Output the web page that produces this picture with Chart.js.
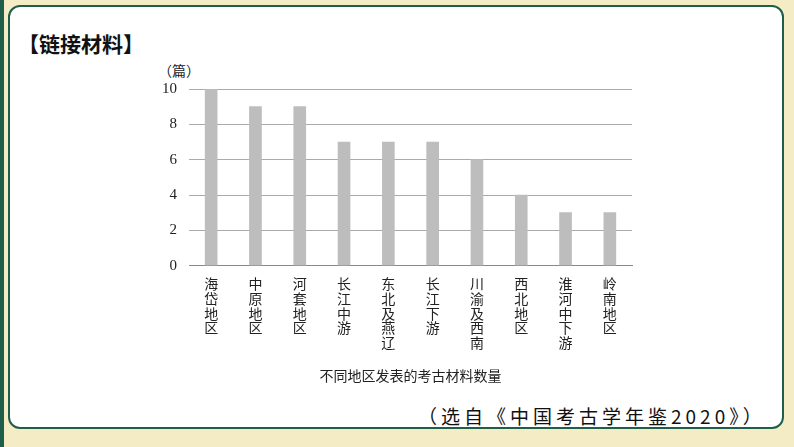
<!DOCTYPE html>
<html><head><meta charset="utf-8">
<script src="https://cdn.jsdelivr.net/npm/chart.js@4/dist/chart.umd.min.js"></script>
<style>
body{margin:0;width:794px;height:447px;background:#f3ecc4;position:relative;overflow:hidden;font-family:"Noto Sans CJK SC",sans-serif;}
#frame{position:absolute;left:0;top:0;width:794px;height:447px;border-left:4px solid #1e5e4a;box-sizing:border-box;}
#card{position:absolute;left:8px;top:5px;width:776px;height:424px;background:#fff;border:2px solid #1e5e4a;border-radius:12px;box-sizing:border-box;}
#title{position:absolute;left:18px;top:28px;font-size:21px;font-weight:bold;color:#111;}
#unit{position:absolute;left:158px;top:60px;font-size:14px;color:#222;}
#src{position:absolute;left:418px;top:402px;font-size:19px;color:#111;letter-spacing:4px;}
#wrap{position:absolute;left:150px;top:68px;width:490px;height:320px;}
</style></head><body>
<div id="frame"></div><div id="card"></div>
<div id="title">【链接材料】</div>
<div id="unit">（篇）</div>
<div id="wrap"><canvas id="c"></canvas></div>
<div id="src">（选自《中国考古学年鉴2020》）</div>
<script>
const regions = ["海岱地区","中原地区","河套地区","长江中游","东北及燕辽","长江下游","川渝及西南","西北地区","淮河中下游","岭南地区"];
const counts = [10, 9, 9, 7, 7, 7, 6, 4, 3, 3];
const yTicks = [0, 2, 4, 6, 8, 10];

const ctx = document.getElementById("c").getContext("2d");
new Chart(ctx, {
  type: "bar",
  data: {
    labels: regions.map(r => r.split("")),
    datasets: [{ data: counts, backgroundColor: "#bdbdbd", barThickness: 12 }]
  },
  options: {
    responsive: true, maintainAspectRatio: false, animation: false,
    plugins: { legend: { display: false }, tooltip: { enabled: false } },
    layout: { padding: { top: 8, right: 8 } },
    scales: {
      x: {
        grid: { display: false },
        border: { color: "#888" },
        ticks: { color: "#222", maxRotation: 0, autoSkip: false, font: { size: 14, family: "Noto Sans CJK SC", lineHeight: 1.05 } },
        title: { display: true, text: "不同地区发表的考古材料数量", color: "#222", font: { size: 14, family: "Noto Sans CJK SC" }, padding: { top: 14 } }
      },
      y: {
        min: 0, max: 10,
        afterBuildTicks: s => { s.ticks = yTicks.map(v => ({ value: v })); },
        grid: { color: "#aaa", drawTicks: false },
        border: { display: false },
        ticks: { color: "#222", padding: 12, font: { size: 15, family: "Liberation Serif" } }
      }
    }
  }
});
</script>
</body></html>
